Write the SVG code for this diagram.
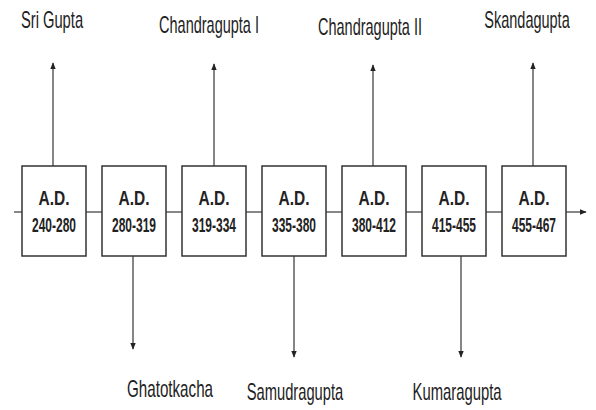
<svg xmlns="http://www.w3.org/2000/svg" width="596" height="410" viewBox="0 0 596 410">
<style>
.box{fill:#fff;stroke:#333;stroke-width:1.5}
.ln{stroke:#444;stroke-width:1.3;fill:none}
.lbl{font-family:"Liberation Sans",Arial,sans-serif;font-size:23px;fill:#222;text-anchor:middle}
.bt{font-family:"Liberation Sans",Arial,sans-serif;font-size:21px;font-weight:bold;fill:#222;text-anchor:middle}
</style>
<defs>
<marker id="ah" viewBox="0 0 10 10" refX="9" refY="5" markerWidth="7" markerHeight="7" orient="auto" markerUnits="userSpaceOnUse">
<path d="M0,1 L10,5 L0,9 Z" fill="#222"/>
</marker>
</defs>
<rect width="596" height="410" fill="#fff"/>
<g id="connectors">
<line class="ln" x1="14" y1="212" x2="22" y2="212"/>
<line class="ln" x1="86" y1="212" x2="102" y2="212"/>
<line class="ln" x1="166" y1="212" x2="182" y2="212"/>
<line class="ln" x1="246" y1="212" x2="262" y2="212"/>
<line class="ln" x1="326" y1="212" x2="342" y2="212"/>
<line class="ln" x1="406" y1="212" x2="422" y2="212"/>
<line class="ln" x1="486" y1="212" x2="502" y2="212"/>
<line class="ln" x1="566" y1="212" x2="586" y2="212" marker-end="url(#ah)"/>
<line class="ln" x1="53" y1="166" x2="53" y2="63" marker-end="url(#ah)"/>
<line class="ln" x1="214" y1="166" x2="214" y2="64" marker-end="url(#ah)"/>
<line class="ln" x1="373" y1="166" x2="373" y2="65" marker-end="url(#ah)"/>
<line class="ln" x1="533" y1="166" x2="533" y2="63" marker-end="url(#ah)"/>
<line class="ln" x1="133" y1="256" x2="133" y2="349" marker-end="url(#ah)"/>
<line class="ln" x1="294" y1="256" x2="294" y2="357" marker-end="url(#ah)"/>
<line class="ln" x1="461" y1="256" x2="461" y2="357" marker-end="url(#ah)"/>
</g>
<g id="n1"><rect class="box" x="22" y="166" width="64" height="90"/><text class="bt" x="54" y="205" textLength="31" lengthAdjust="spacingAndGlyphs">A.D.</text><text class="bt" x="54" y="232" textLength="44" lengthAdjust="spacingAndGlyphs">240-280</text></g>
<g id="n2"><rect class="box" x="102" y="166" width="64" height="90"/><text class="bt" x="134" y="205" textLength="31" lengthAdjust="spacingAndGlyphs">A.D.</text><text class="bt" x="134" y="232" textLength="44" lengthAdjust="spacingAndGlyphs">280-319</text></g>
<g id="n3"><rect class="box" x="182" y="166" width="64" height="90"/><text class="bt" x="214" y="205" textLength="31" lengthAdjust="spacingAndGlyphs">A.D.</text><text class="bt" x="214" y="232" textLength="44" lengthAdjust="spacingAndGlyphs">319-334</text></g>
<g id="n4"><rect class="box" x="262" y="166" width="64" height="90"/><text class="bt" x="294" y="205" textLength="31" lengthAdjust="spacingAndGlyphs">A.D.</text><text class="bt" x="294" y="232" textLength="44" lengthAdjust="spacingAndGlyphs">335-380</text></g>
<g id="n5"><rect class="box" x="342" y="166" width="64" height="90"/><text class="bt" x="374" y="205" textLength="31" lengthAdjust="spacingAndGlyphs">A.D.</text><text class="bt" x="374" y="232" textLength="44" lengthAdjust="spacingAndGlyphs">380-412</text></g>
<g id="n6"><rect class="box" x="422" y="166" width="64" height="90"/><text class="bt" x="454" y="205" textLength="31" lengthAdjust="spacingAndGlyphs">A.D.</text><text class="bt" x="454" y="232" textLength="44" lengthAdjust="spacingAndGlyphs">415-455</text></g>
<g id="n7"><rect class="box" x="502" y="166" width="64" height="90"/><text class="bt" x="534" y="205" textLength="31" lengthAdjust="spacingAndGlyphs">A.D.</text><text class="bt" x="534" y="232" textLength="44" lengthAdjust="spacingAndGlyphs">455-467</text></g>
<g id="l1"><text class="lbl" transform="translate(52,28) scale(0.64,1)">Sri Gupta</text></g>
<g id="l2"><text class="lbl" transform="translate(209,33) scale(0.63,1)">Chandragupta I</text></g>
<g id="l3"><text class="lbl" transform="translate(370,35) scale(0.63,1)">Chandragupta II</text></g>
<g id="l4"><text class="lbl" transform="translate(527,28) scale(0.63,1)">Skandagupta</text></g>
<g id="l5"><text class="lbl" transform="translate(170,397) scale(0.66,1)">Ghatotkacha</text></g>
<g id="l6"><text class="lbl" transform="translate(295,400) scale(0.64,1)">Samudragupta</text></g>
<g id="l7"><text class="lbl" transform="translate(457,400) scale(0.645,1)">Kumaragupta</text></g>
</svg>
